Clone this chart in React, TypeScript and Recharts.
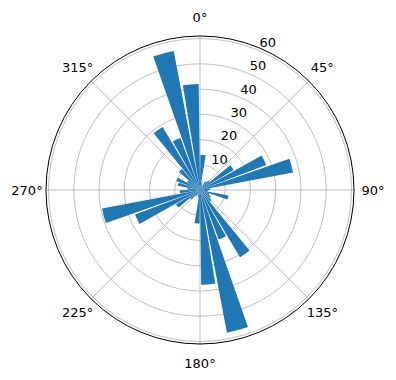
import { RadarChart, Radar, PolarGrid, PolarAngleAxis, PolarRadiusAxis, Sector } from "recharts";

// 36 direction bins of 10 degrees, clockwise from north
const binStarts = [
  0, 10, 20, 30, 40, 50, 60, 70, 80, 90, 100, 110, 120, 130, 140, 150, 160, 170,
  180, 190, 200, 210, 220, 230, 240, 250, 260, 270, 280, 290, 300, 310, 320, 330, 340, 350,
];
const counts = [
  14, 3, 2, 4, 5, 15.5, 28, 37.5, 4, 3, 11.5, 4, 5, 6, 31, 21, 57.5, 37.5,
  13.3, 3, 2, 3, 5, 11, 27.5, 39.5, 8, 5, 9, 10, 6, 11, 29, 22, 56, 42,
];
const angleTicks = [0, 45, 90, 135, 180, 225, 270, 315];
const radiusTicks = [10, 20, 30, 40, 50, 60];

const data = binStarts.map((angle, i) => ({ angle, count: counts[i] }));

const FONT = "DejaVu Sans, sans-serif";

function RoseBars(props: any) {
  const points = props.points || [];
  if (points.length < 2) return null;
  const step = points[1].angle - points[0].angle;
  return (
    <g>
      {points.map((p: any, i: number) => (
        <Sector
          key={i}
          cx={p.cx}
          cy={p.cy}
          innerRadius={0}
          outerRadius={p.radius}
          startAngle={p.angle + step * 0.07}
          endAngle={p.angle + step * 0.93}
          fill="#1f77b4"
          stroke="none"
        />
      ))}
    </g>
  );
}

function AngleTick(props: any) {
  const { x, y, payload } = props;
  const rad = (payload.coordinate * Math.PI) / 180;
  return (
    <text
      x={x + 11 * Math.cos(rad)}
      y={y - 11 * Math.sin(rad)}
      textAnchor="middle"
      dominantBaseline="central"
      fontSize={13}
      fontFamily={FONT}
      fill="#000"
    >
      {payload.value}°
    </text>
  );
}

function RadiusTick(props: any) {
  const { x, y, payload } = props;
  return (
    <text x={x + 1.5} y={y - 3} textAnchor="start" fontSize={13} fontFamily={FONT} fill="#000">
      {payload.value}
    </text>
  );
}

export default function App() {
  return (
    <div style={{ position: "absolute", left: 0, top: 0, width: 396, height: 380, background: "#fff" }}>
      <RadarChart
        width={396}
        height={380}
        data={data}
        cx={200}
        cy={190}
        outerRadius={154}
        startAngle={90}
        endAngle={-270}
        margin={{ top: 0, right: 0, bottom: 0, left: 0 }}
      >
        <Radar
          dataKey="count"
          isAnimationActive={false}
          dot={false}
          shape={RoseBars}
        />
        <PolarGrid gridType="circle" stroke="#b0b0b0" strokeWidth={0.8} />
        <PolarAngleAxis
          dataKey="angle"
          type="number"
          domain={[0, 360]}
          ticks={angleTicks}
          axisLine={{ stroke: "#000", strokeWidth: 1 }}
          axisLineType="circle"
          tickLine={false}
          tick={AngleTick}
        />
        <PolarRadiusAxis
          angle={67.5}
          type="number"
          domain={[0, 61]}
          ticks={radiusTicks}
          axisLine={false}
          tickLine={false}
          tick={RadiusTick}
        />
      </RadarChart>
    </div>
  );
}
